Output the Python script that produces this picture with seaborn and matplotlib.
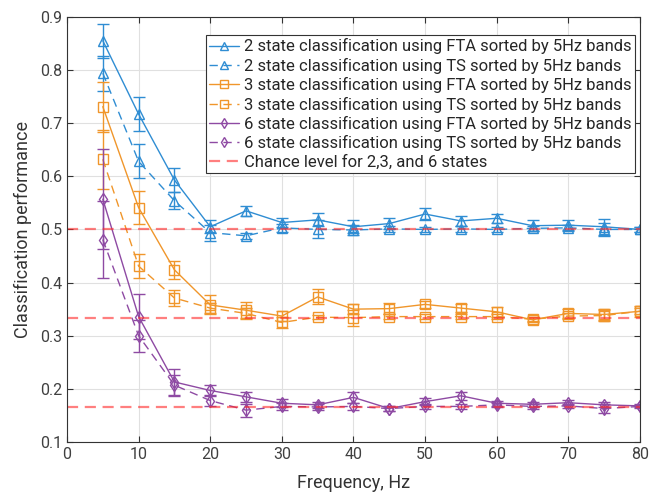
import numpy as np
import pandas as pd
import matplotlib
matplotlib.use("Agg")
import matplotlib.pyplot as plt
import seaborn as sns

freq = [5, 10, 15, 20, 25, 30, 35, 40, 45, 50, 55, 60, 65, 70, 75, 80]

s2_fta = [0.855, 0.717, 0.593, 0.505, 0.535, 0.513, 0.518, 0.505, 0.511, 0.529, 0.516, 0.521, 0.507, 0.508, 0.505, 0.500]
s2_fta_err = [0.032, 0.032, 0.022, 0.012, 0.010, 0.008, 0.012, 0.012, 0.010, 0.012, 0.010, 0.008, 0.010, 0.010, 0.015, 0.004]
s2_ts = [0.794, 0.628, 0.554, 0.494, 0.488, 0.503, 0.500, 0.499, 0.501, 0.500, 0.501, 0.500, 0.502, 0.503, 0.500, 0.500]
s2_ts_err = [0.033, 0.032, 0.016, 0.015, 0.006, 0.008, 0.017, 0.010, 0.005, 0.005, 0.005, 0.005, 0.005, 0.006, 0.012, 0.004]

s3_fta = [0.731, 0.541, 0.424, 0.358, 0.348, 0.337, 0.373, 0.350, 0.351, 0.359, 0.352, 0.345, 0.330, 0.342, 0.340, 0.346]
s3_fta_err = [0.047, 0.031, 0.017, 0.018, 0.015, 0.010, 0.014, 0.010, 0.010, 0.006, 0.008, 0.010, 0.005, 0.008, 0.010, 0.010]
s3_ts = [0.632, 0.431, 0.371, 0.352, 0.342, 0.325, 0.335, 0.334, 0.336, 0.336, 0.336, 0.336, 0.331, 0.337, 0.338, 0.346]
s3_ts_err = [0.055, 0.022, 0.015, 0.010, 0.010, 0.010, 0.004, 0.015, 0.005, 0.004, 0.004, 0.004, 0.004, 0.006, 0.010, 0.006]

s6_fta = [0.557, 0.336, 0.213, 0.197, 0.185, 0.173, 0.170, 0.184, 0.163, 0.176, 0.187, 0.173, 0.171, 0.174, 0.170, 0.168]
s6_fta_err = [0.094, 0.042, 0.025, 0.010, 0.010, 0.008, 0.006, 0.010, 0.005, 0.006, 0.008, 0.005, 0.005, 0.005, 0.005, 0.003]
s6_ts = [0.481, 0.300, 0.207, 0.178, 0.160, 0.167, 0.166, 0.167, 0.163, 0.167, 0.167, 0.170, 0.167, 0.168, 0.163, 0.167]
s6_ts_err = [0.073, 0.030, 0.020, 0.010, 0.012, 0.006, 0.005, 0.006, 0.004, 0.004, 0.004, 0.004, 0.004, 0.004, 0.008, 0.003]

chance = [1 / 2, 1 / 3, 1 / 6]

labels = [
    "2 state classification using FTA sorted by 5Hz bands",
    "2 state classification using TS sorted by 5Hz bands",
    "3 state classification using FTA sorted by 5Hz bands",
    "3 state classification using TS sorted by 5Hz bands",
    "6 state classification using FTA sorted by 5Hz bands",
    "6 state classification using TS sorted by 5Hz bands",
]
chance_label = "Chance level for 2,3, and 6 states"

sns.set_theme(style="whitegrid")
plt.rcParams["font.family"] = ["Roboto", "DejaVu Sans"]

blue, orange, purple = "#2f8dd3", "#f0962b", "#8e4aa3"
series = [
    (s2_fta, s2_fta_err, blue, "^", "-"),
    (s2_ts, s2_ts_err, blue, "^", (0, (6, 4))),
    (s3_fta, s3_fta_err, orange, "s", "-"),
    (s3_ts, s3_ts_err, orange, "s", (0, (6, 4))),
    (s6_fta, s6_fta_err, purple, "d", "-"),
    (s6_ts, s6_ts_err, purple, "d", (0, (6, 4))),
]

fig = plt.figure(figsize=(6.53, 4.95), dpi=100)
ax = fig.add_axes([0.1026, 0.107, 0.8774, 0.859])

for (vals, err, col, mk, ls), lab in zip(series, labels):
    df = pd.DataFrame({"freq": freq, "val": vals})
    sns.lineplot(data=df, x="freq", y="val", ax=ax, color=col, linestyle=ls,
                 marker=mk, markersize=6.5, markerfacecolor="none",
                 markeredgecolor=col, markeredgewidth=1.0, linewidth=1.0,
                 label=lab)
    ax.errorbar(freq, vals, yerr=err, fmt="none", ecolor=col, elinewidth=1.0,
                capsize=4, capthick=1.0)

for i, c in enumerate(chance):
    ax.plot([0, 80], [c, c], color="#ff2a2a", alpha=0.6, linestyle=(0, (5, 3)),
            linewidth=1.6, label=chance_label if i == 0 else "_nolegend_")

ax.set_xlim(0, 80)
ax.set_ylim(0.1, 0.9)
ax.set_xticks(range(0, 81, 10))
ax.set_yticks(np.arange(0.1, 0.91, 0.1))
ax.set_yticklabels([f"{v:.1f}" for v in np.arange(0.1, 0.91, 0.1)])
ax.set_xlabel("Frequency, Hz", fontsize=13, color="#333333", labelpad=9)
ax.set_ylabel("Classification performance", fontsize=13, color="#333333", labelpad=6)
ax.grid(True, color="#e0e0e0", linewidth=0.8)
ax.set_facecolor("white")
for sp in ax.spines.values():
    sp.set_color("#333333")
    sp.set_linewidth(0.8)
ax.tick_params(direction="in", length=4, width=0.8, colors="#333333",
               labelsize=11.5, top=True, right=True, bottom=True, left=True)
ax.tick_params(axis="both", labelcolor="#404040")

leg = ax.legend(loc="upper right", bbox_to_anchor=(0.997, 0.965), fontsize=12,
                frameon=True, fancybox=False, framealpha=1, edgecolor="#333333",
                handlelength=1.8, handletextpad=0.3, borderpad=0.2,
                labelspacing=0.2, borderaxespad=0.2, markerscale=0.85)
leg.get_frame().set_linewidth(0.8)

fig.savefig("out.png", dpi=100)
